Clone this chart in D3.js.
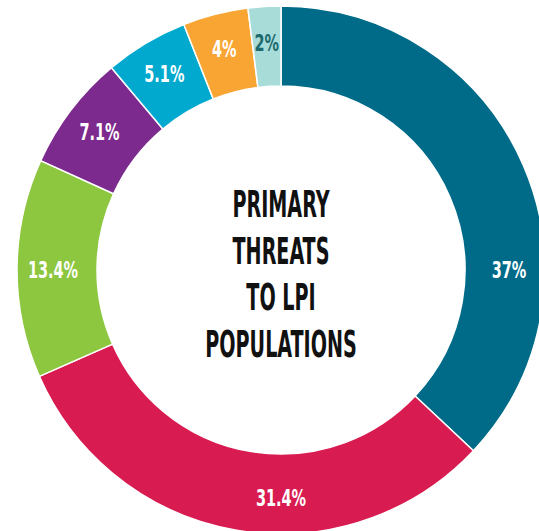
<!DOCTYPE html>
<html>
<head>
<meta charset="utf-8">
<script src="https://cdn.jsdelivr.net/npm/d3@7"></script>
<style>
  html, body { margin: 0; padding: 0; background: #fff; }
  svg { display: block; }
</style>
</head>
<body>
<svg id="chart" width="539" height="531"></svg>
<script>
// slice values (percent), clockwise from 12 o'clock
var shares = [37, 31.4, 13.4, 7.1, 5.1, 4, 2];
var sliceLabels = ["37%", "31.4%", "13.4%", "7.1%", "5.1%", "4%", "2%"];
var sliceColors = ["#006b89", "#d81b50", "#8dc63f", "#7d2a8e", "#00a9cd", "#f9a533", "#a8dcd9"];
var labelColors = ["#fff", "#fff", "#fff", "#fff", "#fff", "#fff", "#1d6a6e"];
var titleLines = ["PRIMARY", "THREATS", "TO LPI", "POPULATIONS"];

var svg = d3.select("#chart");
var cx = 281, cy = 270;
var rOuter = 264, rInner = 184;
var fontFam = "'Liberation Sans Narrow', 'DejaVu Sans Condensed', sans-serif";

var g = svg.append("g").attr("transform", "translate(" + cx + "," + cy + ")");

var pie = d3.pie().sort(null).value(function(d) { return d; });
var arcs = pie(shares);

var arcMkr = d3.arc().innerRadius(rInner).outerRadius(rOuter);

g.selectAll("path").data(arcs).enter()
  .append("path")
  .attr("d", arcMkr)
  .attr("fill", function(d, i) { return sliceColors[i]; })
  .attr("stroke", "#fff")
  .attr("stroke-width", 1.5);

// big slices get their label at the cardinal direction they cover, small ones at the middle
var labelAngle = function(d) {
  var cards = [Math.PI / 2, Math.PI, 3 * Math.PI / 2];
  for (var k = 0; k < cards.length; k++) {
    if (cards[k] > d.startAngle && cards[k] < d.endAngle) return cards[k];
  }
  return (d.startAngle + d.endAngle) / 2;
};

var rLabel = (rInner + rOuter) / 2 + 4;

g.selectAll("text.lbl").data(arcs).enter()
  .append("text")
  .attr("class", "lbl")
  .attr("transform", function(d) {
    var a = labelAngle(d);
    return "translate(" + (rLabel * Math.sin(a)) + "," + (-rLabel * Math.cos(a)) + ") scale(0.7,1)";
  })
  .attr("text-anchor", "middle")
  .attr("dy", "0.36em")
  .attr("font-family", fontFam)
  .attr("font-weight", "bold")
  .attr("font-size", 23)
  .attr("fill", function(d, i) { return labelColors[i]; })
  .text(function(d, i) { return sliceLabels[i]; });

var title = g.append("g").attr("transform", "scale(0.56,1)");
title.selectAll("text").data(titleLines).enter()
  .append("text")
  .attr("x", 0)
  .attr("y", function(d, i) { return (i - 1.5) * 46.5 + 17; })
  .attr("text-anchor", "middle")
  .attr("font-family", fontFam)
  .attr("font-weight", "bold")
  .attr("font-size", 38)
  .attr("fill", "#111")
  .text(function(d) { return d; });
</script>
</body>
</html>
